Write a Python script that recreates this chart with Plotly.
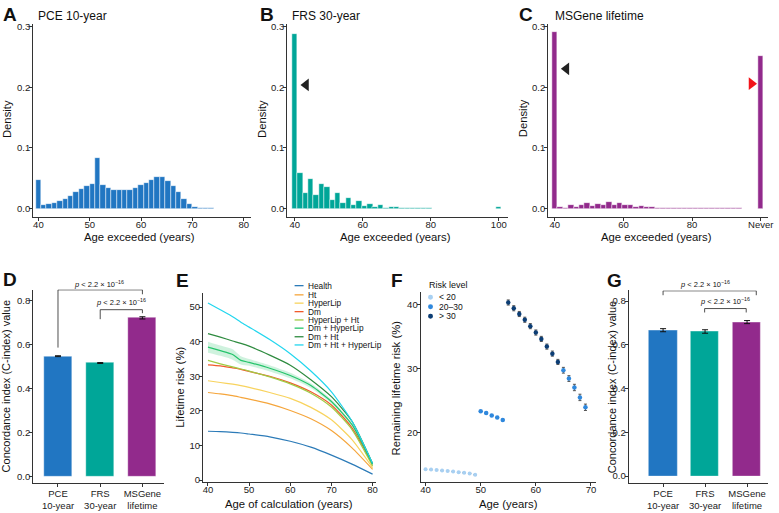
import plotly.graph_objects as go

W, H = 779, 513
FONT = "Liberation Sans, Arial, Helvetica, sans-serif"

# ---------------- data ----------------
# Panel A: PCE 10-year histogram (bin centres, density)
pce_age = [40.00, 41.05, 42.11, 43.16, 44.21, 45.26, 46.32, 47.37, 48.42, 49.47,
           50.53, 51.58, 52.63, 53.68, 54.74, 55.79, 56.84, 57.89, 58.95, 60.00,
           61.05, 62.11, 63.16, 64.21, 65.26, 66.32, 67.37, 68.42, 69.47, 70.53,
           71.58, 72.63, 73.68, 74.74, 75.79, 76.84, 77.89, 78.95, 80.00]
pce_density = [0.048, 0.0055, 0.007, 0.009, 0.0125, 0.016, 0.021, 0.027, 0.032, 0.037,
               0.041, 0.083, 0.039, 0.034, 0.0315, 0.030, 0.030, 0.030, 0.034, 0.039,
               0.042, 0.047, 0.052, 0.052, 0.045, 0.038, 0.027, 0.016, 0.007, 0.002,
               0.0006, 0.0003, 0.0003, 0.0002, 0.0002, 0.0002, 0.0002, 0.0002, 0.0002]

# Panel B: FRS 30-year histogram
frs_age = [40.00, 41.58, 43.16, 44.74, 46.32, 47.89, 49.47, 51.05, 52.63, 54.21,
           55.79, 57.37, 58.95, 60.53, 62.11, 63.68, 65.26, 66.84, 68.42, 70.00,
           71.58, 73.16, 74.74, 76.32, 77.89, 79.47, 81.05, 82.63, 84.21, 85.79,
           87.37, 88.95, 90.53, 92.11, 93.68, 95.26, 96.84, 98.42, 100.00]
frs_density = [0.288, 0.058, 0.0255, 0.0495, 0.022, 0.041, 0.036, 0.0147, 0.0255, 0.010,
               0.018, 0.0054, 0.0125, 0.0038, 0.008, 0.002, 0.0054, 0.0016, 0.0027, 0.002,
               0.001, 0.001, 0.0005, 0.0005, 0.0003, 0.0003, 0.0002, 0, 0, 0,
               0, 0, 0, 0, 0, 0, 0, 0, 0.002]

# Panel C: MSGene lifetime histogram (last bin = "Never")
ms_age = frs_age
ms_density = [0.291, 0.0033, 0.0016, 0.0054, 0.0027, 0.0054, 0.0092, 0.0049, 0.0082, 0.0054,
              0.0103, 0.006, 0.0087, 0.0065, 0.0065, 0.0033, 0.0043, 0.0022, 0.0022, 0.001,
              0.0005, 0.0003, 0.0003, 0.0003, 0.0003, 0.0003, 0.0003, 0.0003, 0.0003, 0.0003,
              0.0003, 0.0003, 0.0003, 0.0003, 0.0003, 0.0002, 0.0002, 0.0002, 0.251]
ms_ticks = [40, 60, 80, 100]
ms_ticktext = ["40", "60", "80", "Never"]

# arrow markers (x, y)
b_arrow = [43.3, 0.204]
c_arrow_black = [43.4, 0.2305]
c_arrow_red = [97.3, 0.206]

# Panels D and G: C-index
models = ["PCE<br>10-year", "FRS<br>30-year", "MSGene<br>lifetime"]
d_cindex = [0.547, 0.516, 0.721]
d_err = [0.002, 0.002, 0.005]
g_cindex = [0.667, 0.661, 0.704]
g_err = [0.007, 0.008, 0.007]
p_label = "<i>p</i> < 2.2 × 10<sup>−16</sup>"

# Panel E: lifetime risk curves
e_age = [40, 43, 46, 48, 50, 55, 60, 65, 70, 75, 80]
e_groups = ["Health", "Ht", "HyperLip", "Dm", "HyperLip + Ht", "Dm + HyperLip", "Dm + Ht", "Dm + Ht + HyperLip"]
e_risk = {
    "Health":             [14.1, 14.0, 13.8, 13.6, 13.3, 12.5, 11.2, 9.5, 7.2, 4.6, 1.7],
    "Ht":                 [25.3, 24.9, 24.4, 23.9, 23.4, 22.0, 20.1, 17.7, 14.3, 9.3, 3.1],
    "HyperLip":           [28.7, 28.2, 27.7, 27.3, 26.8, 25.3, 23.6, 21.0, 17.4, 11.7, 3.6],
    "Dm":                 [33.3, 33.0, 32.4, 32.0, 31.4, 30.0, 28.1, 25.5, 21.7, 15.1, 4.6],
    "HyperLip + Ht":      [34.6, 33.6, 32.7, 32.1, 31.5, 29.8, 27.8, 25.1, 21.1, 14.6, 4.1],
    "Dm + HyperLip":      [38.4, 37.4, 36.3, 34.6, 34.0, 32.3, 30.2, 27.3, 22.7, 16.0, 4.6],
    "Dm + Ht":            [42.3, 41.3, 40.2, 39.5, 38.7, 36.1, 33.2, 29.0, 24.1, 17.0, 4.8],
    "Dm + Ht + HyperLip": [51.2, 49.2, 47.2, 45.6, 44.2, 40.6, 36.5, 31.5, 25.5, 17.0, 4.8],
}
e_dmhl_ci = [1.6, 1.5, 1.5, 1.2, 1.0, 0.9, 0.8, 0.7, 0.6, 0.5, 0.4]

# Panel F: remaining lifetime risk by age
f_age = list(range(40, 70))
f_risk = [14.2, 14.15, 14.1, 14.0, 13.95, 13.85, 13.75, 13.65, 13.55, 13.35,
          23.3, 23.0, 22.6, 22.3, 21.9,
          40.3, 39.4, 38.5, 37.6, 36.6, 35.6, 34.6, 33.4, 32.3, 31.0,
          29.7, 28.4, 27.0, 25.45, 23.9]
f_err = [0, 0, 0, 0, 0, 0, 0, 0, 0, 0,
         0, 0, 0, 0, 0,
         0.4, 0.4, 0.4, 0.4, 0.4, 0.4, 0.4, 0.4, 0.4, 0.4,
         0.45, 0.45, 0.5, 0.5, 0.5]
f_levels = ["< 20", "20–30", "> 30"]

# ---------------- styles ----------------
C_PCE, C_FRS, C_MS = "#2176C2", "#00A698", "#922A8C"
e_colors = {
    "Health": "#2C7BB8", "Ht": "#F5A53B", "HyperLip": "#F8D35E", "Dm": "#F15A2B",
    "HyperLip + Ht": "#9FCC45", "Dm + HyperLip": "#25C46B", "Dm + Ht": "#2E8B3F",
    "Dm + Ht + HyperLip": "#22D6EE",
}
f_colors = {"< 20": "#A8D0F2", "20–30": "#2F88DD", "> 30": "#0C3D74"}
AX = "#333333"


def px(x):
    return x / W


def py(y):
    return 1 - y / H


def axis(letter, **kw):
    base = dict(showline=True, linecolor=AX, linewidth=1, ticks="outside", ticklen=3,
                tickcolor=AX, tickwidth=1, showgrid=False, zeroline=False,
                tickfont=dict(size=9.5, color="#222", family=FONT), fixedrange=True,
                ticklabelstandoff=-5 if letter == "x" else -3)
    base.update(kw)
    return base


fig = go.Figure()

# ---- A, B, C histograms ----
for (xs, ys, col, w, ax) in [(pce_age, pce_density, C_PCE, 40 / 38, "1"),
                             (frs_age, frs_density, C_FRS, 60 / 38, "2"),
                             (ms_age, ms_density, C_MS, 60 / 38, "3")]:
    fig.add_bar(x=xs, y=ys, width=w, marker=dict(color=col, line=dict(color="rgba(255,255,255,0.8)", width=0.6)),
                xaxis="x" + ax, yaxis="y" + ax, showlegend=False)

fig.add_scatter(x=[b_arrow[0]], y=[b_arrow[1]], mode="markers",
                marker=dict(symbol="triangle-left", size=11, color="#222"), xaxis="x2", yaxis="y2", showlegend=False)
fig.add_scatter(x=[c_arrow_black[0]], y=[c_arrow_black[1]], mode="markers",
                marker=dict(symbol="triangle-left", size=11, color="#222"), xaxis="x3", yaxis="y3", showlegend=False)
fig.add_scatter(x=[c_arrow_red[0]], y=[c_arrow_red[1]], mode="markers",
                marker=dict(symbol="triangle-right", size=11, color="#F2141B"), xaxis="x3", yaxis="y3", showlegend=False)

# ---- D and G bar charts ----
bar_cols = [C_PCE, C_FRS, C_MS]
for vals, errs, ax in [(d_cindex, d_err, "4"), (g_cindex, g_err, "7")]:
    fig.add_bar(x=[0, 1, 2], y=vals, width=0.67,
                marker=dict(color=bar_cols, line=dict(color="rgba(255,255,255,0.6)", width=0.6)),
                error_y=dict(type="data", array=errs, color="#111", thickness=1, width=3),
                xaxis="x" + ax, yaxis="y" + ax, showlegend=False)


def bracket(x0, x1, ytop, yl, yr, ax):
    fig.add_scatter(x=[x0, x0, x1, x1], y=[yl, ytop, ytop, yr], mode="lines",
                    line=dict(color="#222", width=0.8), cliponaxis=False,
                    xaxis="x" + ax, yaxis="y" + ax, showlegend=False, hoverinfo="skip")


bracket(0, 2, 0.848, 0.586, 0.828, "4")
bracket(1, 2, 0.758, 0.715, 0.742, "4")
bracket(0, 2.22, 0.847, 0.827, 0.827, "7")
bracket(0.99, 1.98, 0.766, 0.748, 0.748, "7")

# ---- E curves ----
for g in e_groups:
    if g == "Dm + HyperLip":
        lo = [v - c for v, c in zip(e_risk[g], e_dmhl_ci)]
        hi = [v + c for v, c in zip(e_risk[g], e_dmhl_ci)]
        fig.add_scatter(x=e_age, y=lo, mode="lines", line=dict(width=0, shape="spline", smoothing=0.6),
                        xaxis="x5", yaxis="y5", showlegend=False, hoverinfo="skip")
        fig.add_scatter(x=e_age, y=hi, mode="lines", line=dict(width=0, shape="spline", smoothing=0.6),
                        fill="tonexty", fillcolor="rgba(37,196,107,0.22)",
                        xaxis="x5", yaxis="y5", showlegend=False, hoverinfo="skip")
    fig.add_scatter(x=e_age, y=e_risk[g], mode="lines", name=g,
                    line=dict(color=e_colors[g], width=1.2, shape="spline", smoothing=0.6),
                    xaxis="x5", yaxis="y5", showlegend=False)

# ---- F points ----
for lev in f_levels:
    xs, ys, es = [], [], []
    for a, r, e in zip(f_age, f_risk, f_err):
        L = "< 20" if r < 20 else ("20–30" if r <= 30 else "> 30")
        if L == lev:
            xs.append(a)
            ys.append(r)
            es.append(e)
    fig.add_scatter(x=xs, y=ys, mode="markers", name=lev,
                    marker=dict(color=f_colors[lev], size=4.5 if lev != "< 20" else 4),
                    error_y=dict(type="data", array=es, color="#555", thickness=1, width=1.5),
                    xaxis="x6", yaxis="y6", showlegend=False)

# ---------------- layout ----------------
lay = dict(
    width=W, height=H, margin=dict(l=0, r=0, t=0, b=0),
    paper_bgcolor="white", plot_bgcolor="white", bargap=0,
    font=dict(family=FONT, color="#222"), showlegend=False,
)
# A
lay["xaxis"] = axis("x", domain=[px(33.3), px(253)], range=[38.97, 81.5], tickvals=[40, 50, 60, 70, 80], anchor="y")
lay["yaxis"] = axis("y", domain=[py(216.9), py(21.2)], range=[-0.0145, 0.3045], tickvals=[0, 0.1, 0.2, 0.3],
                    tickformat=".1f", anchor="x")
# B
lay["xaxis2"] = axis("x", domain=[px(289), px(511.7)], range=[37.75, 102.83], tickvals=[40, 60, 80, 100],
                     anchor="y2")
lay["yaxis2"] = axis("y", domain=[py(216.9), py(21.2)], range=[-0.0145, 0.3045], tickvals=[0, 0.1, 0.2, 0.3],
                     tickformat=".1f", anchor="x2")
# C
lay["xaxis3"] = axis("x", domain=[px(551.7), px(773)], range=[38.09, 102.11], tickvals=ms_ticks,
                     ticktext=ms_ticktext, anchor="y3")
lay["yaxis3"] = axis("y", domain=[py(216.9), py(21.2)], range=[-0.0145, 0.3045], tickvals=[0, 0.1, 0.2, 0.3],
                     tickformat=".1f", anchor="x3")
# D
lay["xaxis4"] = axis("x", domain=[px(33.3), px(165)], range=[-0.59, 2.51], tickvals=[0, 1, 2], ticktext=models,
                     anchor="y4", ticklabelstandoff=-2)
lay["yaxis4"] = axis("y", domain=[py(486), py(290)], range=[-0.030, 0.8492], tickvals=[0, 0.2, 0.4, 0.6, 0.8],
                     tickformat=".1f", anchor="x4")
# E
lay["xaxis5"] = axis("x", domain=[px(204.3), px(378.3)], range=[38.79, 80.8], tickvals=[40, 50, 60, 70, 80],
                     anchor="y5")
lay["yaxis5"] = axis("y", domain=[py(485), py(293.3)], range=[-0.66, 54.1], tickvals=[0, 10, 20, 30, 40, 50],
                     anchor="x5")
# F
lay["xaxis6"] = axis("x", domain=[px(423.3), px(600)], range=[39.1, 70.94], tickvals=[40, 50, 60, 70],
                     anchor="y6")
lay["yaxis6"] = axis("y", domain=[py(485), py(292.7)], range=[12.16, 41.9], tickvals=[20, 30, 40], anchor="x6")
# G
lay["xaxis7"] = axis("x", domain=[px(632.7), px(773)], range=[-0.82, 2.5], tickvals=[0, 1, 2], ticktext=models,
                     anchor="y7", ticklabelstandoff=-2)
lay["yaxis7"] = axis("y", domain=[py(486), py(290.8)], range=[-0.0333, 0.8490], tickvals=[0, 0.2, 0.4, 0.6, 0.8],
                     tickformat=".1f", anchor="x7")

ann = []


def text(x, y, t, size=11, xanchor="center", angle=0, bold=False, color="#111"):
    ann.append(dict(x=px(x), y=py(y), xref="paper", yref="paper", text=("<b>%s</b>" % t) if bold else t,
                    showarrow=False, xanchor=xanchor, yanchor="middle", textangle=angle,
                    font=dict(size=size, family=FONT, color=color)))


# panel letters
for L, x, y in [("A", 1, 12), ("B", 260, 12), ("C", 520, 12), ("D", 1, 280), ("E", 175, 281),
                ("F", 392, 281), ("G", 609, 281)]:
    text(x, y, L, size=19, xanchor="left", bold=True)

# titles
text(36, 13.5, "PCE 10-year", size=12, xanchor="left")
text(292.3, 13.5, "FRS 30-year", size=12, xanchor="left")
text(556.7, 13.5, "MSGene lifetime", size=12, xanchor="left")

# axis titles
for xc in [140, 398, 660.3]:
    text(xc, 236.5, "Age exceeded (years)", size=11.3)
for xc in [6.5, 263, 526]:
    text(xc, 117, "Density", angle=-90, size=11.3)
text(7, 388, "Concordance index (C-index) value", angle=-90, size=11)
text(616.7, 389, "Concordance index (C-index) value", angle=-90, size=11)
text(181.5, 389, "Lifetime risk (%)", angle=-90, size=11.3)
text(399.5, 389, "Remaining lifetime risk (%)", angle=-90, size=11.3)
text(291.3, 506.5, "Age of calculation (years)", size=11.3)
text(511.7, 506.5, "Age (years)", size=11.3)

# p-value labels
text(100, 284.3, p_label, size=7.5)
text(121.7, 302.7, p_label, size=7.5)
text(710, 284, p_label, size=7.5)
text(730, 301.7, p_label, size=7.5)

# E legend (manual)
shapes = []
e_leg_y = [286, 295.3, 303.7, 312.3, 320.7, 329, 337.7, 346]
for g, yy in zip(e_groups, e_leg_y):
    shapes.append(dict(type="line", xref="paper", yref="paper", x0=px(296.5), x1=px(305.5),
                       y0=py(yy), y1=py(yy), line=dict(color=e_colors[g], width=1.3)))
    text(308.3, yy, g, size=8.3, xanchor="left")

# F legend (manual)
text(430, 285, "Risk level", size=9, xanchor="left")
f_leg_y = [297.7, 307.3, 317]
for lev, yy in zip(f_levels, f_leg_y):
    shapes.append(dict(type="circle", xref="paper", yref="paper", x0=px(430.8), x1=px(435.8),
                       y0=py(yy + 2.5), y1=py(yy - 2.5), fillcolor=f_colors[lev], line=dict(width=0)))
    text(439.5, yy, lev, size=8.5, xanchor="left")

lay["annotations"] = ann
lay["shapes"] = shapes
fig.update_layout(**lay)
fig.write_html("out.html", config={"displayModeBar": False},
               post_script="document.body.style.margin='0px';document.body.style.overflow='hidden';")
